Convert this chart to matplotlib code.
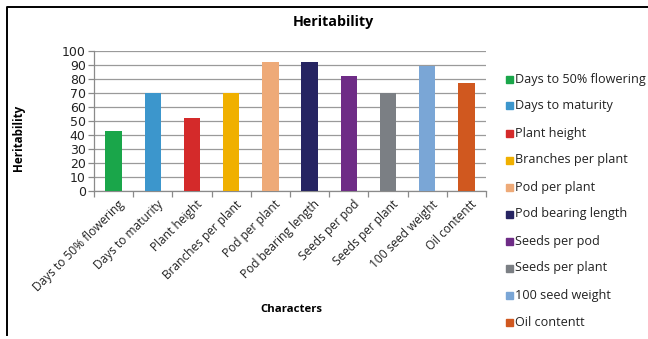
import matplotlib
matplotlib.use("Agg")
import matplotlib.pyplot as plt
from matplotlib.patches import Rectangle
from matplotlib.lines import Line2D

characters = ["Days to 50% flowering", "Days to maturity", "Plant height",
              "Branches per plant", "Pod per plant", "Pod bearing length",
              "Seeds per pod", "Seeds per plant", "100 seed weight", "Oil contentt"]
heritability = [43, 70, 52, 70, 92, 92, 82, 70, 89, 77]
colors = ["#1aa64a", "#3c96cc", "#d42a2a", "#f0b000", "#eeaa78",
          "#262462", "#6e2c86", "#7b7f84", "#7aa6d6", "#d0581f"]
yticks = list(range(0, 101, 10))

W, H = 648, 339
fig = plt.figure(figsize=(W / 100, H / 100), dpi=100)
fig.patch.set_facecolor("white")

# plot area in pixel coordinates
x0, x1, ytop, ybot = 94, 486, 51, 191
ax = fig.add_axes([x0 / W, 1 - ybot / H, (x1 - x0) / W, (ybot - ytop) / H])

pos = list(range(len(characters)))
ax.bar(pos, heritability, width=0.42, color=colors, zorder=3)

ax.set_xlim(-0.5, len(characters) - 0.5)
ax.set_ylim(0, 100)
ax.set_yticks(yticks)
ax.set_yticklabels([str(v) for v in yticks], fontsize=9, family="DejaVu Sans",
                   color="#222222")
ax.yaxis.grid(True, color="#9a9a9a", linewidth=0.9, zorder=0)
ax.set_axisbelow(True)

ax.set_xticks([p - 0.5 for p in pos] + [len(pos) - 0.5])
ax.set_xticklabels([])
ax.tick_params(axis="x", length=4, color="#8a8a8a", width=0.9)
ax.tick_params(axis="y", length=4, color="#8a8a8a", width=0.9, pad=2)

for p, lab in zip(pos, characters):
    ax.text(p + 0.1, -5, lab, rotation=45, ha="right", va="top",
            rotation_mode="anchor", fontsize=8.6, family="Open Sans",
            color="#222222")

for s in ["top", "right"]:
    ax.spines[s].set_visible(False)
for s in ["left", "bottom"]:
    ax.spines[s].set_color("#8a8a8a")
    ax.spines[s].set_linewidth(0.9)

fig.text(333 / W, 1 - 22 / H, "Heritability", ha="center", va="center",
         fontsize=10.3, fontweight="bold", family="Open Sans")
fig.text(18 / W, 1 - 138 / H, "Heritability", ha="center", va="center",
         rotation=90, fontsize=8.4, fontweight="bold", family="Open Sans")
fig.text(291 / W, 1 - 309 / H, "Characters", ha="center", va="center",
         fontsize=8.2, fontweight="bold", family="Open Sans")

# legend
for i, (lab, c) in enumerate(zip(characters, colors)):
    yc = 79 + 27 * i
    fig.patches.append(Rectangle((506 / W, 1 - (yc + 3.5) / H), 7 / W, 7 / H,
                                 transform=fig.transFigure, color=c))
    fig.text(515 / W, 1 - yc / H, lab, ha="left", va="center",
             fontsize=9.1, family="Open Sans", color="#222222")

# chart frame (top and left edges)
fig.add_artist(Line2D([6.5 / W, 6.5 / W, 1.0], [1 - 335 / H, 1 - 6.5 / H, 1 - 6.5 / H],
                      transform=fig.transFigure, color="black", linewidth=1.4))

fig.savefig("out.png", dpi=100)
